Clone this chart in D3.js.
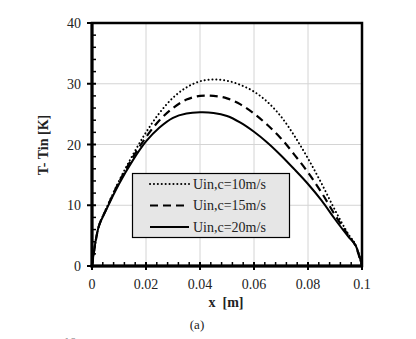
<!DOCTYPE html>
<html>
<head>
<meta charset="utf-8">
<script src="https://cdn.jsdelivr.net/npm/d3@7"></script>
<style>
  body { margin: 0; background: #fff; }
  svg text { font-family: "Liberation Serif", "DejaVu Serif", serif; fill: #222; }
</style>
</head>
<body>
<svg id="chart" width="416" height="339"></svg>
<script>
// x positions along the channel [m]
const xs = [0, 0.0025, 0.005, 0.01, 0.015, 0.02, 0.025, 0.03, 0.035, 0.04, 0.045, 0.05,
            0.055, 0.06, 0.065, 0.07, 0.075, 0.08, 0.085, 0.09, 0.095, 0.0975, 0.1];
// T - Tin [K] for each inlet velocity
const u10 = [0, 6.5, 9.2, 14.0, 18.2, 22.0, 25.2, 27.7, 29.4, 30.4, 30.7, 30.5,
             29.8, 28.7, 27.0, 24.6, 21.4, 17.7, 13.6, 9.2, 5.2, 3.6, 0];
const u15 = [0, 6.5, 9.1, 13.8, 17.8, 21.2, 24.0, 26.0, 27.4, 28.0, 28.0, 27.6,
             26.6, 25.1, 23.2, 21.0, 18.3, 15.4, 12.1, 8.4, 5.0, 3.4, 0];
const u20 = [0, 6.5, 9.0, 13.5, 17.3, 20.5, 22.8, 24.4, 25.1, 25.3, 25.2, 24.7,
             23.6, 22.1, 20.3, 18.2, 15.9, 13.5, 10.8, 7.7, 4.8, 3.5, 0];
const seriesNames = ["Uin,c=10m/s", "Uin,c=15m/s", "Uin,c=20m/s"];
const xTicks = [0, 0.02, 0.04, 0.06, 0.08, 0.1];
const yTicks = [0, 10, 20, 30, 40];

const svg = d3.select("#chart");
const plot = { left: 92, right: 362, top: 23, bottom: 266 };

const x = d3.scaleLinear().domain([0, 0.1]).range([plot.left, plot.right]);
const y = d3.scaleLinear().domain([0, 40]).range([plot.bottom, plot.top]);

// grid
svg.append("g").selectAll("line").data(xTicks.slice(1, -1)).enter().append("line")
  .attr("x1", d => x(d)).attr("x2", d => x(d)).attr("y1", plot.top).attr("y2", plot.bottom)
  .attr("stroke", "#d4d4d4").attr("stroke-width", 1);
svg.append("g").selectAll("line").data(yTicks.slice(1, -1)).enter().append("line")
  .attr("y1", d => y(d)).attr("y2", d => y(d)).attr("x1", plot.left).attr("x2", plot.right)
  .attr("stroke", "#d4d4d4").attr("stroke-width", 1);

// curves
const styles = [
  { data: u10, dash: "0.1,3.8", cap: "round", w: 2 },
  { data: u15, dash: "8,5", cap: "butt", w: 2.2 },
  { data: u20, dash: null, cap: "butt", w: 2 }
];
const line = d3.line().x(d => x(d[0])).y(d => y(d[1])).curve(d3.curveCatmullRom.alpha(0.5));
styles.forEach(s => {
  svg.append("path")
    .datum(xs.map((v, i) => [v, s.data[i]]))
    .attr("d", line)
    .attr("fill", "none")
    .attr("stroke", "#000")
    .attr("stroke-width", s.w)
    .attr("stroke-linecap", s.cap)
    .attr("stroke-dasharray", s.dash);
});

// legend
const lg = svg.append("g");
lg.append("rect").attr("x", 132.5).attr("y", 173.5).attr("width", 157).attr("height", 64)
  .attr("fill", "#e6e6e6").attr("stroke", "#000").attr("stroke-width", 1.2);
styles.forEach((s, i) => {
  const ly = 184 + i * 21.5;
  lg.append("line").attr("x1", 150).attr("x2", 189).attr("y1", ly).attr("y2", ly)
    .attr("stroke", "#000").attr("stroke-width", s.w)
    .attr("stroke-linecap", s.cap).attr("stroke-dasharray", s.dash);
  lg.append("text").attr("x", 193).attr("y", ly + 4.5)
    .attr("font-size", 14).text(seriesNames[i]);
});

// frame
svg.append("rect").attr("x", plot.left).attr("y", plot.top)
  .attr("width", plot.right - plot.left).attr("height", plot.bottom - plot.top)
  .attr("fill", "none").attr("stroke", "#000").attr("stroke-width", 2.5);
svg.append("line").attr("x1", plot.left).attr("x2", plot.left).attr("y1", plot.top - 1).attr("y2", plot.bottom + 1.5)
  .attr("stroke", "#000").attr("stroke-width", 3);
svg.append("line").attr("x1", plot.left - 1.5).attr("x2", plot.right + 1).attr("y1", plot.bottom).attr("y2", plot.bottom)
  .attr("stroke", "#000").attr("stroke-width", 3);

// x axis ticks
const xMinor = d3.range(0, 0.1001, 0.004).filter(v => !xTicks.some(t => Math.abs(t - v) < 1e-6));
svg.append("g").selectAll("line").data(xMinor).enter().append("line")
  .attr("x1", d => x(d)).attr("x2", d => x(d)).attr("y1", plot.bottom).attr("y2", plot.bottom - 4)
  .attr("stroke", "#000").attr("stroke-width", 1.5);
svg.append("g").selectAll("line").data(xTicks).enter().append("line")
  .attr("x1", d => x(d)).attr("x2", d => x(d)).attr("y1", plot.bottom + 4).attr("y2", plot.bottom - 4)
  .attr("stroke", "#000").attr("stroke-width", 2);
svg.append("g").selectAll("text").data(xTicks).enter().append("text")
  .attr("x", d => x(d)).attr("y", 289).attr("text-anchor", "middle")
  .attr("font-size", 14).text(d => d3.format("")(d));

// y axis ticks
const yMinor = d3.range(0, 40.01, 2).filter(v => v % 10 !== 0);
svg.append("g").selectAll("line").data(yMinor).enter().append("line")
  .attr("x1", plot.left).attr("x2", plot.left + 4).attr("y1", d => y(d)).attr("y2", d => y(d))
  .attr("stroke", "#000").attr("stroke-width", 1.5);
svg.append("g").selectAll("line").data(yTicks).enter().append("line")
  .attr("x1", plot.left - 5).attr("x2", plot.left + 4).attr("y1", d => y(d)).attr("y2", d => y(d))
  .attr("stroke", "#000").attr("stroke-width", 2);
svg.append("g").selectAll("text").data(yTicks).enter().append("text")
  .attr("x", 81).attr("y", d => y(d) + 5).attr("text-anchor", "end")
  .attr("font-size", 14).text(d => d);

// axis titles
svg.append("text").attr("transform", "translate(48,145) rotate(-90)")
  .attr("text-anchor", "middle").attr("font-size", 14).attr("font-weight", "bold")
  .text("T- Tin [K]");
svg.append("text").attr("x", 226).attr("y", 307).attr("text-anchor", "middle")
  .attr("font-size", 14).attr("font-weight", "bold")
  .style("white-space", "pre").text("x  [m]");
svg.append("text").attr("x", 197).attr("y", 329).attr("text-anchor", "middle")
  .attr("font-size", 13).text("(a)");
// top of the next figure's label, cut by the page edge
svg.append("text").attr("x", 70).attr("y", 346).attr("text-anchor", "middle")
  .attr("font-size", 13).style("fill", "#888").text("10");
</script>
</body>
</html>
